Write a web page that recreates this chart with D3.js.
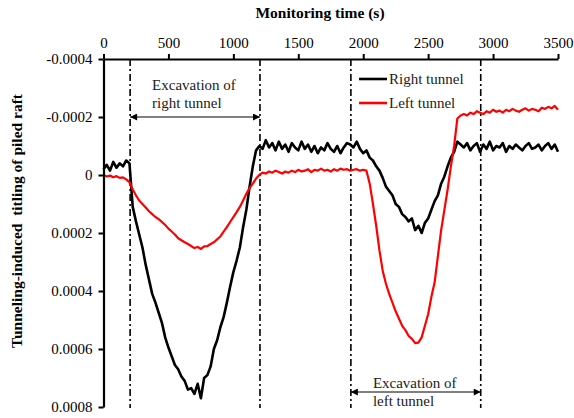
<!DOCTYPE html>
<html>
<head>
<meta charset="utf-8">
<script src="https://cdn.jsdelivr.net/npm/d3@7"></script>
<style>
  html, body { margin: 0; padding: 0; background: #fff; }
  svg text { font-family: 'Liberation Serif', 'Times New Roman', Times, 'DejaVu Serif', serif !important; }
</style>
</head>
<body>
<svg id="chart" width="574" height="418"></svg>
<script>
// ---- data ----
const timeTicks = [0, 500, 1000, 1500, 2000, 2500, 3000, 3500];
const tiltTicks = [-0.0004, -0.0002, 0, 0.0002, 0.0004, 0.0006, 0.0008];
const tiltTickLabels = ["-0.0004", "-0.0002", "0", "0.0002", "0.0004", "0.0006", "0.0008"];

const timeS = [0,25,50,75,100,125,150,175,200,225,250,275,300,325,350,375,400,425,450,475,
  500,525,550,575,600,625,650,675,700,725,750,775,800,825,850,875,900,925,950,975,
  1000,1025,1050,1075,1100,1125,1150,1175,1200,1225,1250,1275,1300,1325,1350,1375,1400,1425,1450,1475,
  1500,1525,1550,1575,1600,1625,1650,1675,1700,1725,1750,1775,1800,1825,1850,1875,1900,1925,1950,1975,
  2000,2025,2050,2075,2100,2125,2150,2175,2200,2225,2250,2275,2300,2325,2350,2375,2400,2425,2450,2475,
  2500,2525,2550,2575,2600,2625,2650,2675,2700,2725,2750,2775,2800,2825,2850,2875,2900,2925,2950,2975,
  3000,3025,3050,3075,3100,3125,3150,3175,3200,3225,3250,3275,3300,3325,3350,3375,3400,3425,3450,3475,3500];

const rightTunnel = [-0.000020,-0.000035,-0.000015,-0.000045,-0.000025,-0.000040,-0.000030,-0.000050,-0.000040,0.000110,
  0.000160,0.000205,0.000250,0.000310,0.000360,0.000410,0.000440,0.000475,0.000510,0.000560,
  0.000595,0.000625,0.000655,0.000670,0.000695,0.000710,0.000740,0.000735,0.000755,0.000720,
  0.000770,0.000700,0.000690,0.000660,0.000600,0.000570,0.000525,0.000490,0.000440,0.000385,
  0.000335,0.000295,0.000250,0.000180,0.000120,0.000040,-0.000030,-0.000085,-0.000100,-0.000090,
  -0.000120,-0.000095,-0.000110,-0.000085,-0.000115,-0.000090,-0.000105,-0.000080,-0.000110,-0.000095,
  -0.000085,-0.000115,-0.000090,-0.000105,-0.000080,-0.000100,-0.000075,-0.000095,-0.000085,-0.000110,
  -0.000090,-0.000080,-0.000100,-0.000075,-0.000095,-0.000110,-0.000105,-0.000095,-0.000115,-0.000090,
  -0.000075,-0.000085,-0.000060,-0.000050,-0.000030,-0.000015,0.000010,0.000040,0.000055,0.000070,
  0.000100,0.000110,0.000135,0.000145,0.000160,0.000150,0.000190,0.000175,0.000200,0.000165,
  0.000150,0.000120,0.000090,0.000070,0.000030,0.000005,-0.000030,-0.000060,-0.000080,-0.000115,
  -0.000105,-0.000095,-0.000110,-0.000085,-0.000100,-0.000110,-0.000080,-0.000105,-0.000090,-0.000115,
  -0.000085,-0.000100,-0.000095,-0.000110,-0.000080,-0.000100,-0.000090,-0.000105,-0.000095,-0.000085,
  -0.000100,-0.000110,-0.000090,-0.000095,-0.000105,-0.000085,-0.000100,-0.000110,-0.000090,-0.000105,-0.000080];

const leftTunnel = [0.000000,0.000005,0.000002,0.000008,0.000004,0.000010,0.000008,0.000015,0.000025,0.000050,
  0.000070,0.000088,0.000100,0.000112,0.000125,0.000135,0.000145,0.000152,0.000162,0.000172,
  0.000185,0.000195,0.000205,0.000218,0.000225,0.000232,0.000238,0.000245,0.000252,0.000248,
  0.000255,0.000246,0.000245,0.000238,0.000232,0.000222,0.000212,0.000195,0.000180,0.000162,
  0.000145,0.000128,0.000110,0.000088,0.000065,0.000045,0.000030,0.000012,0.000000,-0.000008,
  -0.000005,-0.000012,-0.000008,-0.000015,-0.000010,-0.000005,-0.000012,-0.000008,-0.000015,-0.000010,
  -0.000018,-0.000012,-0.000015,-0.000020,-0.000010,-0.000018,-0.000015,-0.000022,-0.000015,-0.000018,
  -0.000012,-0.000020,-0.000015,-0.000022,-0.000018,-0.000020,-0.000015,-0.000018,-0.000020,-0.000015,
  -0.000018,-0.000015,0.000030,0.000100,0.000175,0.000260,0.000330,0.000375,0.000410,0.000440,
  0.000470,0.000495,0.000520,0.000535,0.000555,0.000565,0.000580,0.000578,0.000560,0.000520,
  0.000480,0.000420,0.000370,0.000280,0.000190,0.000120,0.000050,-0.000030,-0.000100,-0.000195,
  -0.000205,-0.000210,-0.000205,-0.000215,-0.000210,-0.000220,-0.000215,-0.000210,-0.000220,-0.000215,
  -0.000225,-0.000218,-0.000222,-0.000215,-0.000225,-0.000220,-0.000228,-0.000222,-0.000218,-0.000225,
  -0.000230,-0.000222,-0.000228,-0.000225,-0.000220,-0.000232,-0.000228,-0.000235,-0.000230,-0.000238,-0.000225];

const excavationBounds = [205, 1205, 1905, 2905];
const seriesNames = ["Right tunnel", "Left tunnel"];
const seriesColors = ["#000000", "#ff0000"];

// ---- layout ----
const SERIF = "'Liberation Serif', 'Times New Roman', Times, serif";
const svg = d3.select("#chart");
const x = d3.scaleLinear().domain([0, 3500]).range([103.5, 558]);
const y = d3.scaleLinear().domain([-0.0004, 0.0008]).range([59, 407]);

svg.append("defs").append("marker")
  .attr("id", "arr").attr("viewBox", "0 0 10 10").attr("refX", 10).attr("refY", 5)
  .attr("markerWidth", 9).attr("markerHeight", 7).attr("markerUnits", "userSpaceOnUse")
  .attr("orient", "auto-start-reverse")
  .append("path").attr("d", "M0,0 L10,5 L0,10 Z").attr("fill", "#000");

// excavation boundary dash-dot lines
svg.append("g").selectAll("line").data(excavationBounds).join("line")
  .attr("x1", d => x(d)).attr("x2", d => x(d))
  .attr("y1", y(-0.0004)).attr("y2", y(0.0008) + 1)
  .attr("stroke", "#000").attr("stroke-width", 1.6)
  .attr("stroke-dasharray", "7,3,2,3");

// series
const line = d3.line().x((d, i) => x(timeS[i])).y(d => y(d));
svg.append("path").datum(rightTunnel).attr("d", line)
  .attr("fill", "none").attr("stroke", seriesColors[0]).attr("stroke-width", 2.6)
  .attr("stroke-linejoin", "round");
svg.append("path").datum(leftTunnel).attr("d", line)
  .attr("fill", "none").attr("stroke", seriesColors[1]).attr("stroke-width", 2.2)
  .attr("stroke-linejoin", "round");

// axes
const xAxis = d3.axisTop(x).tickValues(timeTicks).tickSize(5).tickSizeOuter(0).tickFormat(d3.format("d"));
const gx = svg.append("g").attr("transform", `translate(0,${y(-0.0004)})`).call(xAxis);
const yAxis = d3.axisLeft(y).tickValues(tiltTicks).tickSize(5).tickSizeOuter(0)
  .tickFormat((d, i) => tiltTickLabels[i]);
const gy = svg.append("g").attr("transform", `translate(${x(0)},0)`).call(yAxis);
[gx, gy].forEach(g => {
  g.attr("font-family", null);
  g.select(".domain").attr("stroke", "#000").attr("stroke-width", 2.2);
  g.selectAll(".tick line").attr("stroke", "#000").attr("stroke-width", 2);
  g.selectAll(".tick text").style("font-family", SERIF)
    .attr("font-size", 15).attr("fill", "#000");
});
gx.selectAll(".tick text").attr("dy", "-0.2em");
gy.selectAll(".tick text").attr("dx", "-0.2em");

// axis titles
svg.append("text").attr("x", 320).attr("y", 18).attr("text-anchor", "middle")
  .style("font-family", SERIF)
  .attr("font-size", 15.5).attr("font-weight", "bold").text("Monitoring time (s)");
svg.append("text").attr("transform", "translate(22,221) rotate(-90)").attr("text-anchor", "middle")
  .style("font-family", SERIF)
  .attr("font-size", 15.5).attr("font-weight", "bold")
  .style("white-space", "pre")
  .text("Tunneling-induced  titling of piled raft");

// annotations
function annot(x0, x1, yArrow, yText1, lines) {
  svg.append("line").attr("x1", x(x0)).attr("x2", x(x1)).attr("y1", yArrow).attr("y2", yArrow)
    .attr("stroke", "#000").attr("stroke-width", 1)
    .attr("marker-start", "url(#arr)").attr("marker-end", "url(#arr)");
  lines.forEach((t, i) => {
    svg.append("text").attr("x", x(x0) + 22).attr("y", yText1 + i * 18)
      .style("font-family", SERIF)
      .attr("font-size", 15).attr("fill", "#222").text(t);
  });
}
annot(excavationBounds[0], excavationBounds[1], y(-0.0002), 90, ["Excavation of", "right tunnel"]);
annot(excavationBounds[2], excavationBounds[3], 392, 388, ["Excavation of", "left tunnel"]);

// legend
const leg = svg.append("g");
seriesNames.forEach((n, i) => {
  const ly = 79 + i * 24;
  leg.append("line").attr("x1", 359).attr("x2", 387).attr("y1", ly).attr("y2", ly)
    .attr("stroke", seriesColors[i]).attr("stroke-width", 2.6);
  leg.append("text").attr("x", 389).attr("y", ly + 5).attr("font-size", 15)
    .style("font-family", SERIF)
    .attr("fill", "#222").text(n);
});
</script>
</body>
</html>
